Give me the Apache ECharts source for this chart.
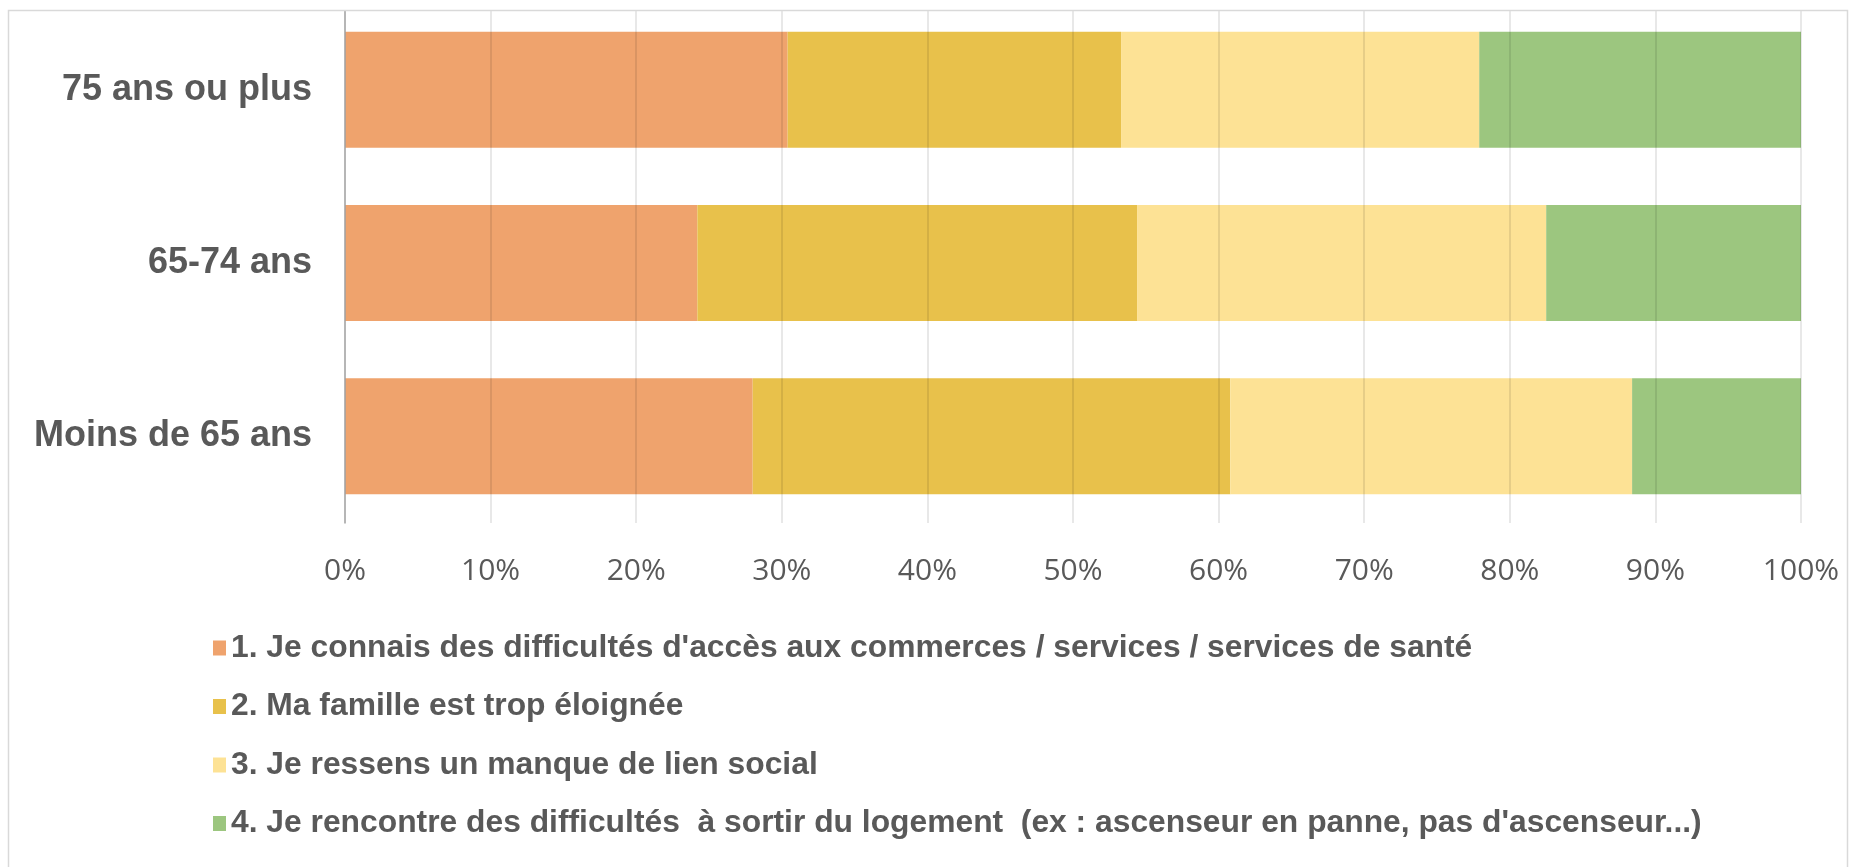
<!DOCTYPE html>
<html>
<head>
<meta charset="utf-8">
<script src="https://cdn.jsdelivr.net/npm/echarts@6/dist/echarts.min.js"></script>
<style>
html,body{margin:0;padding:0;background:#fff;}
#chart{width:1849px;height:867px;}
</style>
</head>
<body>
<div id="chart"></div>
<script>
const categories = ['Moins de 65 ans', '65-74 ans', '75 ans ou plus'];
const seriesNames = [
  "1. Je connais des difficultés d'accès aux commerces / services / services de santé",
  "2. Ma famille est trop éloignée",
  "3. Je ressens un manque de lien social",
  "4. Je rencontre des difficultés  à sortir du logement  (ex : ascenseur en panne, pas d'ascenseur...)"
];
const s1Values = [28.0, 24.2, 30.4];
const s2Values = [32.8, 30.2, 22.9];
const s3Values = [27.6, 28.1, 24.6];
const s4Values = [11.6, 17.5, 22.1];
const xTicks = [0, 10, 20, 30, 40, 50, 60, 70, 80, 90, 100];
const colors = ['#EFA36D', '#E8C14B', '#FDE295', '#9CC67F'];

const allValues = [s1Values, s2Values, s3Values, s4Values];
const chart = echarts.init(document.getElementById('chart'), null, {renderer: 'canvas'});
chart.setOption({
  animation: false,
  backgroundColor: '#ffffff',
  graphic: [{
    type: 'rect',
    shape: {x: 0, y: 0, width: 1849, height: 10},
    style: {fill: '#ffffff'},
    silent: true,
    z: 9
  }, {
    type: 'rect',
    shape: {x: 8.5, y: 10.5, width: 1839, height: 900},
    style: {fill: 'none', stroke: '#D9D9D9', lineWidth: 1.5},
    silent: true,
    z: 10
  }],
  grid: {left: 345, right: 48, top: 3, height: 520, containLabel: false},
  legend: {
    orient: 'vertical',
    left: 208,
    top: 627,
    itemWidth: 13,
    itemHeight: 15,
    itemGap: 26.5,
    icon: 'rect',
    textStyle: {fontFamily: 'Liberation Sans, Arial, sans-serif', fontWeight: 'bold', fontSize: 31.8, lineHeight: 31.8, color: '#595959'},
    data: seriesNames
  },
  xAxis: {
    type: 'value',
    min: 0,
    max: 100,
    interval: 10,
    z: 3,
    axisLine: {show: false},
    axisTick: {show: false},
    splitLine: {show: true, lineStyle: {color: 'rgba(0,0,0,0.12)', width: 1.5}},
    axisLabel: {
      margin: 33,
      fontFamily: 'Open Sans, sans-serif',
      fontSize: 30,
      color: '#595959',
      formatter: function (v) { return xTicks.indexOf(v) >= 0 ? v + '%' : ''; }
    }
  },
  yAxis: {
    type: 'category',
    data: categories,
    z: 3,
    axisLine: {show: true, lineStyle: {color: '#A6A6A6', width: 1.5}},
    axisTick: {show: false},
    splitLine: {show: false},
    axisLabel: {
      margin: 33,
      fontFamily: 'Liberation Sans, Arial, sans-serif',
      fontWeight: 'bold',
      fontSize: 36,
      color: '#595959'
    }
  },
  series: seriesNames.map(function (name, i) {
    return {
      name: name,
      type: 'bar',
      stack: 'total',
      barWidth: 116,
      itemStyle: {color: colors[i]},
      data: allValues[i]
    };
  })
});
</script>
</body>
</html>
